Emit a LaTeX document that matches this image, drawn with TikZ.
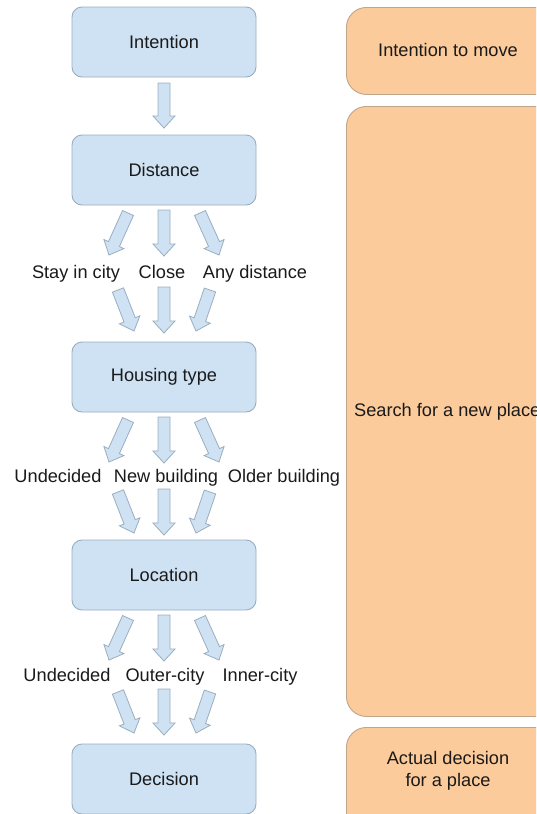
\documentclass[tikz,border=0pt]{standalone}
\usepackage{fontspec}
\setmainfont{Liberation Sans}
\usetikzlibrary{calc}
\definecolor{bfill}{HTML}{CFE2F3}
\definecolor{bdraw}{HTML}{9AAEBF}
\definecolor{ofill}{HTML}{FCCB9B}
\definecolor{odraw}{HTML}{BFA58C}
\definecolor{txt}{HTML}{1A1A1A}
\tikzset{
  stagebox/.style={draw=bdraw, fill=bfill, rounded corners=10pt, line width=0.9pt, minimum width=184pt, minimum height=70pt, text=txt, font=\fontsize{18.2}{20}\selectfont},
  phasebox/.style={draw=odraw, fill=ofill, rounded corners=20pt, line width=0.9pt},
  lbl/.style={text=txt, font=\fontsize{18.2}{21.5}\selectfont, inner sep=0pt, anchor=base},
  blockarrow/.style={draw=bdraw, fill=bfill, line width=0.8pt, line join=miter}
}
\newcommand\barrow[2]{%
  \coordinate (bah) at ($(#2)!12pt!(#1)$);
  \draw[blockarrow] ($(#1)!6pt!90:(#2)$) -- ($(bah)!6pt!90:(#2)$) -- ($(bah)!11pt!90:(#2)$) -- (#2) -- ($(bah)!11pt!-90:(#2)$) -- ($(bah)!6pt!-90:(#2)$) -- ($(#1)!6pt!-90:(#2)$) -- cycle;}
\begin{document}
\begin{tikzpicture}[x=1pt,y=-1pt]
\useasboundingbox (0,0) rectangle (536,814);
\clip (0,0) rectangle (536,814);
\fill[white] (0,0) rectangle (536,814);
% phase boxes
\node[phasebox, minimum width=220pt, minimum height=87pt, anchor=north west] (p1) at (346,7) {};
\node[lbl] (p1t) at (448,56) {Intention to move};
\node[phasebox, minimum width=220pt, minimum height=610pt, anchor=north west] (p2) at (346,106) {};
\node[lbl, anchor=base west] (p2t) at (354,416) {Search for a new place};
\node[phasebox, minimum width=220pt, minimum height=110pt, anchor=north west] (p3) at (346,727) {};
\node[lbl, align=center, anchor=center] (p3t) at (448,771) {Actual decision\\[0pt]for a place};
% stage boxes
\node[stagebox] (s1) at (164,42) {Intention};
\node[stagebox] (s2) at (164,170) {Distance};
\node[stagebox] (s3) at (164,377) {Housing type};
\node[stagebox] (s4) at (164,575) {Location};
\node[stagebox] (s5) at (164,779) {Decision};
% labels
\node[lbl] (a1) at (76,278) {Stay in city};
\node[lbl] (a2) at (162,278) {Close};
\node[lbl] (a3) at (255,278) {Any distance};
\node[lbl] (b1) at (58,482) {Undecided};
\node[lbl] (b2) at (166,482) {New building};
\node[lbl] (b3) at (284,482) {Older building};
\node[lbl] (c1) at (67,681) {Undecided};
\node[lbl] (c2) at (165,681) {Outer-city};
\node[lbl] (c3) at (260,681) {Inner-city};
% arrow coordinates
\coordinate (i0) at (164,83); \coordinate (i1) at (164,128);
% distance fan
\coordinate (d1s) at (128,213); \coordinate (d1e) at (109,255);
\coordinate (d2s) at (164,210); \coordinate (d2e) at (164,256);
\coordinate (d3s) at (200,213); \coordinate (d3e) at (219,255);
\coordinate (e1s) at (118,290); \coordinate (e1e) at (134,331);
\coordinate (e2s) at (164,287); \coordinate (e2e) at (164,333);
\coordinate (e3s) at (210,290); \coordinate (e3e) at (196,331);
% housing fan
\coordinate (f1s) at (128,420); \coordinate (f1e) at (109,462);
\coordinate (f2s) at (164,417); \coordinate (f2e) at (164,463);
\coordinate (f3s) at (200,420); \coordinate (f3e) at (219,462);
\coordinate (g1s) at (118,492); \coordinate (g1e) at (134,533);
\coordinate (g2s) at (164,489); \coordinate (g2e) at (164,535);
\coordinate (g3s) at (210,492); \coordinate (g3e) at (196,533);
% location fan
\coordinate (h1s) at (128,618); \coordinate (h1e) at (109,660);
\coordinate (h2s) at (164,615); \coordinate (h2e) at (164,661);
\coordinate (h3s) at (200,618); \coordinate (h3e) at (219,660);
\coordinate (k1s) at (118,692); \coordinate (k1e) at (134,733);
\coordinate (k2s) at (164,689); \coordinate (k2e) at (164,735);
\coordinate (k3s) at (210,692); \coordinate (k3e) at (196,733);
\barrow{i0}{i1}
\barrow{d1s}{d1e}\barrow{d2s}{d2e}\barrow{d3s}{d3e}
\barrow{e1s}{e1e}\barrow{e2s}{e2e}\barrow{e3s}{e3e}
\barrow{f1s}{f1e}\barrow{f2s}{f2e}\barrow{f3s}{f3e}
\barrow{g1s}{g1e}\barrow{g2s}{g2e}\barrow{g3s}{g3e}
\barrow{h1s}{h1e}\barrow{h2s}{h2e}\barrow{h3s}{h3e}
\barrow{k1s}{k1e}\barrow{k2s}{k2e}\barrow{k3s}{k3e}
\end{tikzpicture}
\end{document}
